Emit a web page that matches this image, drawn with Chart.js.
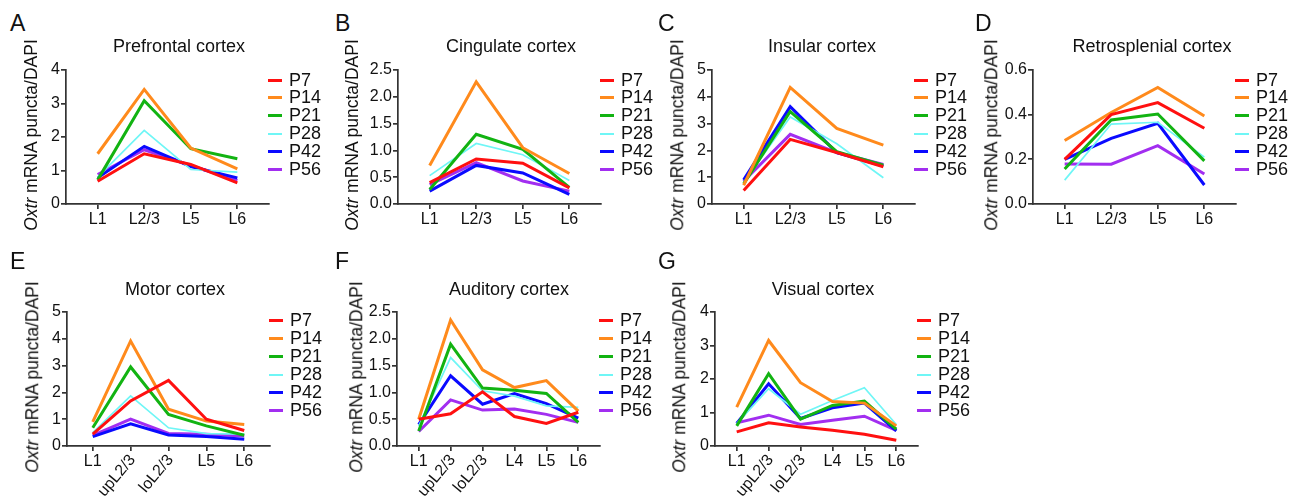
<!DOCTYPE html>
<html>
<head>
<meta charset="utf-8">
<script src="https://cdn.jsdelivr.net/npm/chart.js@4.4.1/dist/chart.umd.min.js"></script>
<style>
  body { margin: 0; background: #fff; font-family: "Liberation Sans", Arial, sans-serif; color: #111; }
  #fig { position: relative; width: 1301px; height: 502px; overflow: hidden; }
  #fig canvas { position: absolute; }
  .txt { position: absolute; line-height: 1; white-space: nowrap; transform: translateY(-50%); }
  .letter { font-size: 23px; }
  .title { font-size: 18px; transform: translate(-50%, -50%); }
  .ylab { font-size: 17.5px; transform: translate(-50%, -50%) rotate(-90deg); }
  .legtxt { font-size: 18px; }
  .legline { position: absolute; width: 14px; }
</style>
</head>
<body>
<div id="fig"></div>
<script>
// categories
const layers4 = ["L1", "L2/3", "L5", "L6"];
const layers5 = ["L1", "upL2/3", "loL2/3", "L5", "L6"];
const layers6 = ["L1", "upL2/3", "loL2/3", "L4", "L5", "L6"];
const ages = ["P7", "P14", "P21", "P28", "P42", "P56"];
const ageColors = ["#ff1010", "#ff8a1c", "#12b312", "#6ff6f6", "#0a0aff", "#a22ef0"];
const ageWidths = [3, 3, 3, 1.7, 3, 3];

// y tick labels
const ticks0to4 = ["0", "1", "2", "3", "4"];
const ticks0to5 = ["0", "1", "2", "3", "4", "5"];
const ticks0to25 = ["0.0", "0.5", "1.0", "1.5", "2.0", "2.5"];
const ticks0to06 = ["0.0", "0.2", "0.4", "0.6"];

// values, one row per age (P7, P14, P21, P28, P42, P56)
const prefrontal = [
  [0.68, 1.50, 1.18, 0.63],
  [1.50, 3.42, 1.67, 1.05],
  [0.72, 3.08, 1.65, 1.35],
  [0.80, 2.20, 1.03, 0.95],
  [0.78, 1.72, 1.12, 0.78],
  [0.88, 1.62, 1.15, 0.70]
];
const cingulate = [
  [0.40, 0.84, 0.76, 0.30],
  [0.72, 2.28, 1.05, 0.57],
  [0.27, 1.30, 1.02, 0.31],
  [0.53, 1.13, 0.92, 0.44],
  [0.24, 0.72, 0.58, 0.18],
  [0.36, 0.77, 0.43, 0.24]
];
const insular = [
  [0.50, 2.41, 1.92, 1.39],
  [0.70, 4.35, 2.82, 2.20],
  [0.75, 3.45, 1.95, 1.45],
  [0.80, 3.25, 2.25, 0.98],
  [0.90, 3.63, 1.92, 1.42],
  [0.85, 2.60, 1.92, 1.48]
];
const retrosplenial = [
  [0.200, 0.400, 0.454, 0.339],
  [0.284, 0.410, 0.522, 0.394],
  [0.157, 0.376, 0.403, 0.193],
  [0.107, 0.358, 0.366, 0.210],
  [0.200, 0.294, 0.361, 0.085],
  [0.179, 0.178, 0.261, 0.134]
];
const motor = [
  [0.44, 1.68, 2.45, 1.00, 0.58],
  [0.90, 3.92, 1.37, 0.93, 0.80],
  [0.68, 2.95, 1.18, 0.75, 0.40],
  [0.50, 1.87, 0.68, 0.46, 0.44],
  [0.35, 0.83, 0.41, 0.35, 0.25],
  [0.40, 1.00, 0.47, 0.44, 0.37]
];
const auditory = [
  [0.50, 0.60, 1.01, 0.55, 0.42, 0.63],
  [0.50, 2.35, 1.42, 1.09, 1.22, 0.65],
  [0.28, 1.90, 1.08, 1.04, 0.98, 0.44],
  [0.37, 1.65, 1.03, 0.93, 0.75, 0.72],
  [0.40, 1.31, 0.78, 0.98, 0.79, 0.52],
  [0.27, 0.86, 0.67, 0.69, 0.59, 0.44]
];
const visual = [
  [0.42, 0.69, 0.57, 0.47, 0.35, 0.17],
  [1.16, 3.15, 1.89, 1.33, 1.28, 0.60],
  [0.60, 2.16, 0.80, 1.21, 1.34, 0.50],
  [0.67, 1.71, 0.95, 1.36, 1.74, 0.64],
  [0.67, 1.86, 0.82, 1.14, 1.28, 0.45],
  [0.69, 0.92, 0.64, 0.77, 0.89, 0.47]
];

const fig = document.getElementById("fig");
const axisColor = "#333";
const fontFamily = "'Liberation Sans', Arial, sans-serif";
const plotW = 203, plotH = 134;
Chart.defaults.font.family = fontFamily;

function addText(cls, html, x, y) {
  const d = document.createElement("div");
  d.className = "txt " + cls;
  d.innerHTML = html;
  d.style.left = x + "px";
  d.style.top = y + "px";
  fig.appendChild(d);
}

// panel layout: axis corner (left, top), title / letter / y label spots
function makePanel(p) {
  const canvas = document.createElement("canvas");
  const cw = 50 + plotW + 10, ch = 20 + plotH + 20 + 50;
  canvas.width = cw;
  canvas.height = ch;
  canvas.style.left = (p.left - 50) + "px";
  canvas.style.top = (p.top - 20) + "px";
  fig.appendChild(canvas);

  const cats = p.cats;
  const yVals = p.yTicks.map(t => parseFloat(t));
  const isRotated = c => c.startsWith("up") || c.startsWith("lo");

  // the rotated layer names are drawn here, the flat ones by the scale itself
  const rotatedLabels = {
    id: "rotatedLabels",
    afterDraw(chart) {
      const xs = chart.scales.x;
      const ctx = chart.ctx;
      ctx.save();
      ctx.font = "16px " + fontFamily;
      ctx.fillStyle = "#111";
      ctx.textAlign = "right";
      ctx.textBaseline = "middle";
      cats.forEach((c, i) => {
        if (!isRotated(c)) return;
        ctx.save();
        ctx.translate(xs.getPixelForValue(i) + 2, xs.top + 11);
        ctx.rotate(-50 * Math.PI / 180);
        ctx.fillText(c, 0, 0);
        ctx.restore();
      });
      ctx.restore();
    }
  };

  const axisGrid = { display: true, drawOnChartArea: false, drawTicks: true, tickLength: 5, color: axisColor, lineWidth: 1.7 };
  const axisBorder = { display: true, color: axisColor, width: 1.7 };

  new Chart(canvas.getContext("2d"), {
    type: "line",
    data: {
      datasets: ages.map((age, k) => ({
        label: age,
        data: p.values[k].map((v, i) => ({ x: i, y: v })),
        borderColor: ageColors[k],
        backgroundColor: ageColors[k],
        borderWidth: ageWidths[k],
        pointRadius: 0,
        tension: 0,
        fill: false
      }))
    },
    options: {
      responsive: false,
      animation: false,
      devicePixelRatio: 1,
      layout: { padding: { left: 0, top: 20, right: 10, bottom: 50 } },
      plugins: { legend: { display: false }, tooltip: { enabled: false }, title: { display: false } },
      scales: {
        x: {
          type: "linear",
          min: -0.68,
          max: cats.length - 1 + 0.68,
          afterBuildTicks: s => { s.ticks = cats.map((c, i) => ({ value: i })); },
          afterFit: s => { s.height = 20; },
          grid: axisGrid,
          border: axisBorder,
          ticks: {
            callback: v => (isRotated(cats[v]) ? "" : cats[v]),
            font: { size: 16 },
            color: "#111",
            padding: 1,
            maxRotation: 0,
            minRotation: 0,
            autoSkip: false
          }
        },
        y: {
          min: yVals[0],
          max: yVals[yVals.length - 1],
          afterBuildTicks: s => { s.ticks = yVals.map(v => ({ value: v })); },
          afterFit: s => { s.width = 50; },
          grid: axisGrid,
          border: axisBorder,
          ticks: {
            callback: (v, i) => p.yTicks[i],
            font: { size: 16 },
            color: "#111",
            padding: 1,
            autoSkip: false
          }
        }
      }
    },
    plugins: [rotatedLabels]
  });

  addText("letter", p.letter, p.letterX, p.top - (p.top < 100 ? 47.5 : 51.5));
  addText("title", p.title, p.titleX, p.top - (p.top < 100 ? 24.5 : 23.5));
  addText("ylab", "<i>Oxtr</i> mRNA puncta/DAPI", p.left - p.ylabGap, p.top + 65);

  // legend
  const lx = p.left + plotW - 1;
  const y0 = p.top < 100 ? p.top + 9.5 : p.top + 8;
  const dy = p.top < 100 ? 17.8 : 18;
  ages.forEach((age, k) => {
    const line = document.createElement("div");
    line.className = "legline";
    line.style.left = lx + "px";
    line.style.top = (y0 + k * dy - ageWidths[k] / 2 + 0.5) + "px";
    line.style.height = (k === 3 ? 2 : 3) + "px";
    line.style.background = ageColors[k];
    fig.appendChild(line);
    addText("legtxt", age, lx + 21, y0 + k * dy);
  });
}

makePanel({ letter: "A", title: "Prefrontal cortex", cats: layers4, values: prefrontal, yTicks: ticks0to4,
  left: 66, top: 70, letterX: 10, titleX: 179, ylabGap: 34 });
makePanel({ letter: "B", title: "Cingulate cortex", cats: layers4, values: cingulate, yTicks: ticks0to25,
  left: 398, top: 70, letterX: 335, titleX: 511, ylabGap: 45 });
makePanel({ letter: "C", title: "Insular cortex", cats: layers4, values: insular, yTicks: ticks0to5,
  left: 712, top: 70, letterX: 658, titleX: 822, ylabGap: 34 });
makePanel({ letter: "D", title: "Retrosplenial cortex", cats: layers4, values: retrosplenial, yTicks: ticks0to06,
  left: 1033, top: 70, letterX: 975, titleX: 1152, ylabGap: 41 });
makePanel({ letter: "E", title: "Motor cortex", cats: layers5, values: motor, yTicks: ticks0to5,
  left: 67, top: 312, letterX: 10, titleX: 175, ylabGap: 34 });
makePanel({ letter: "F", title: "Auditory cortex", cats: layers6, values: auditory, yTicks: ticks0to25,
  left: 397, top: 312, letterX: 335, titleX: 509, ylabGap: 40 });
makePanel({ letter: "G", title: "Visual cortex", cats: layers6, values: visual, yTicks: ticks0to4,
  left: 715, top: 312, letterX: 658, titleX: 823, ylabGap: 35 });
</script>
</body>
</html>
